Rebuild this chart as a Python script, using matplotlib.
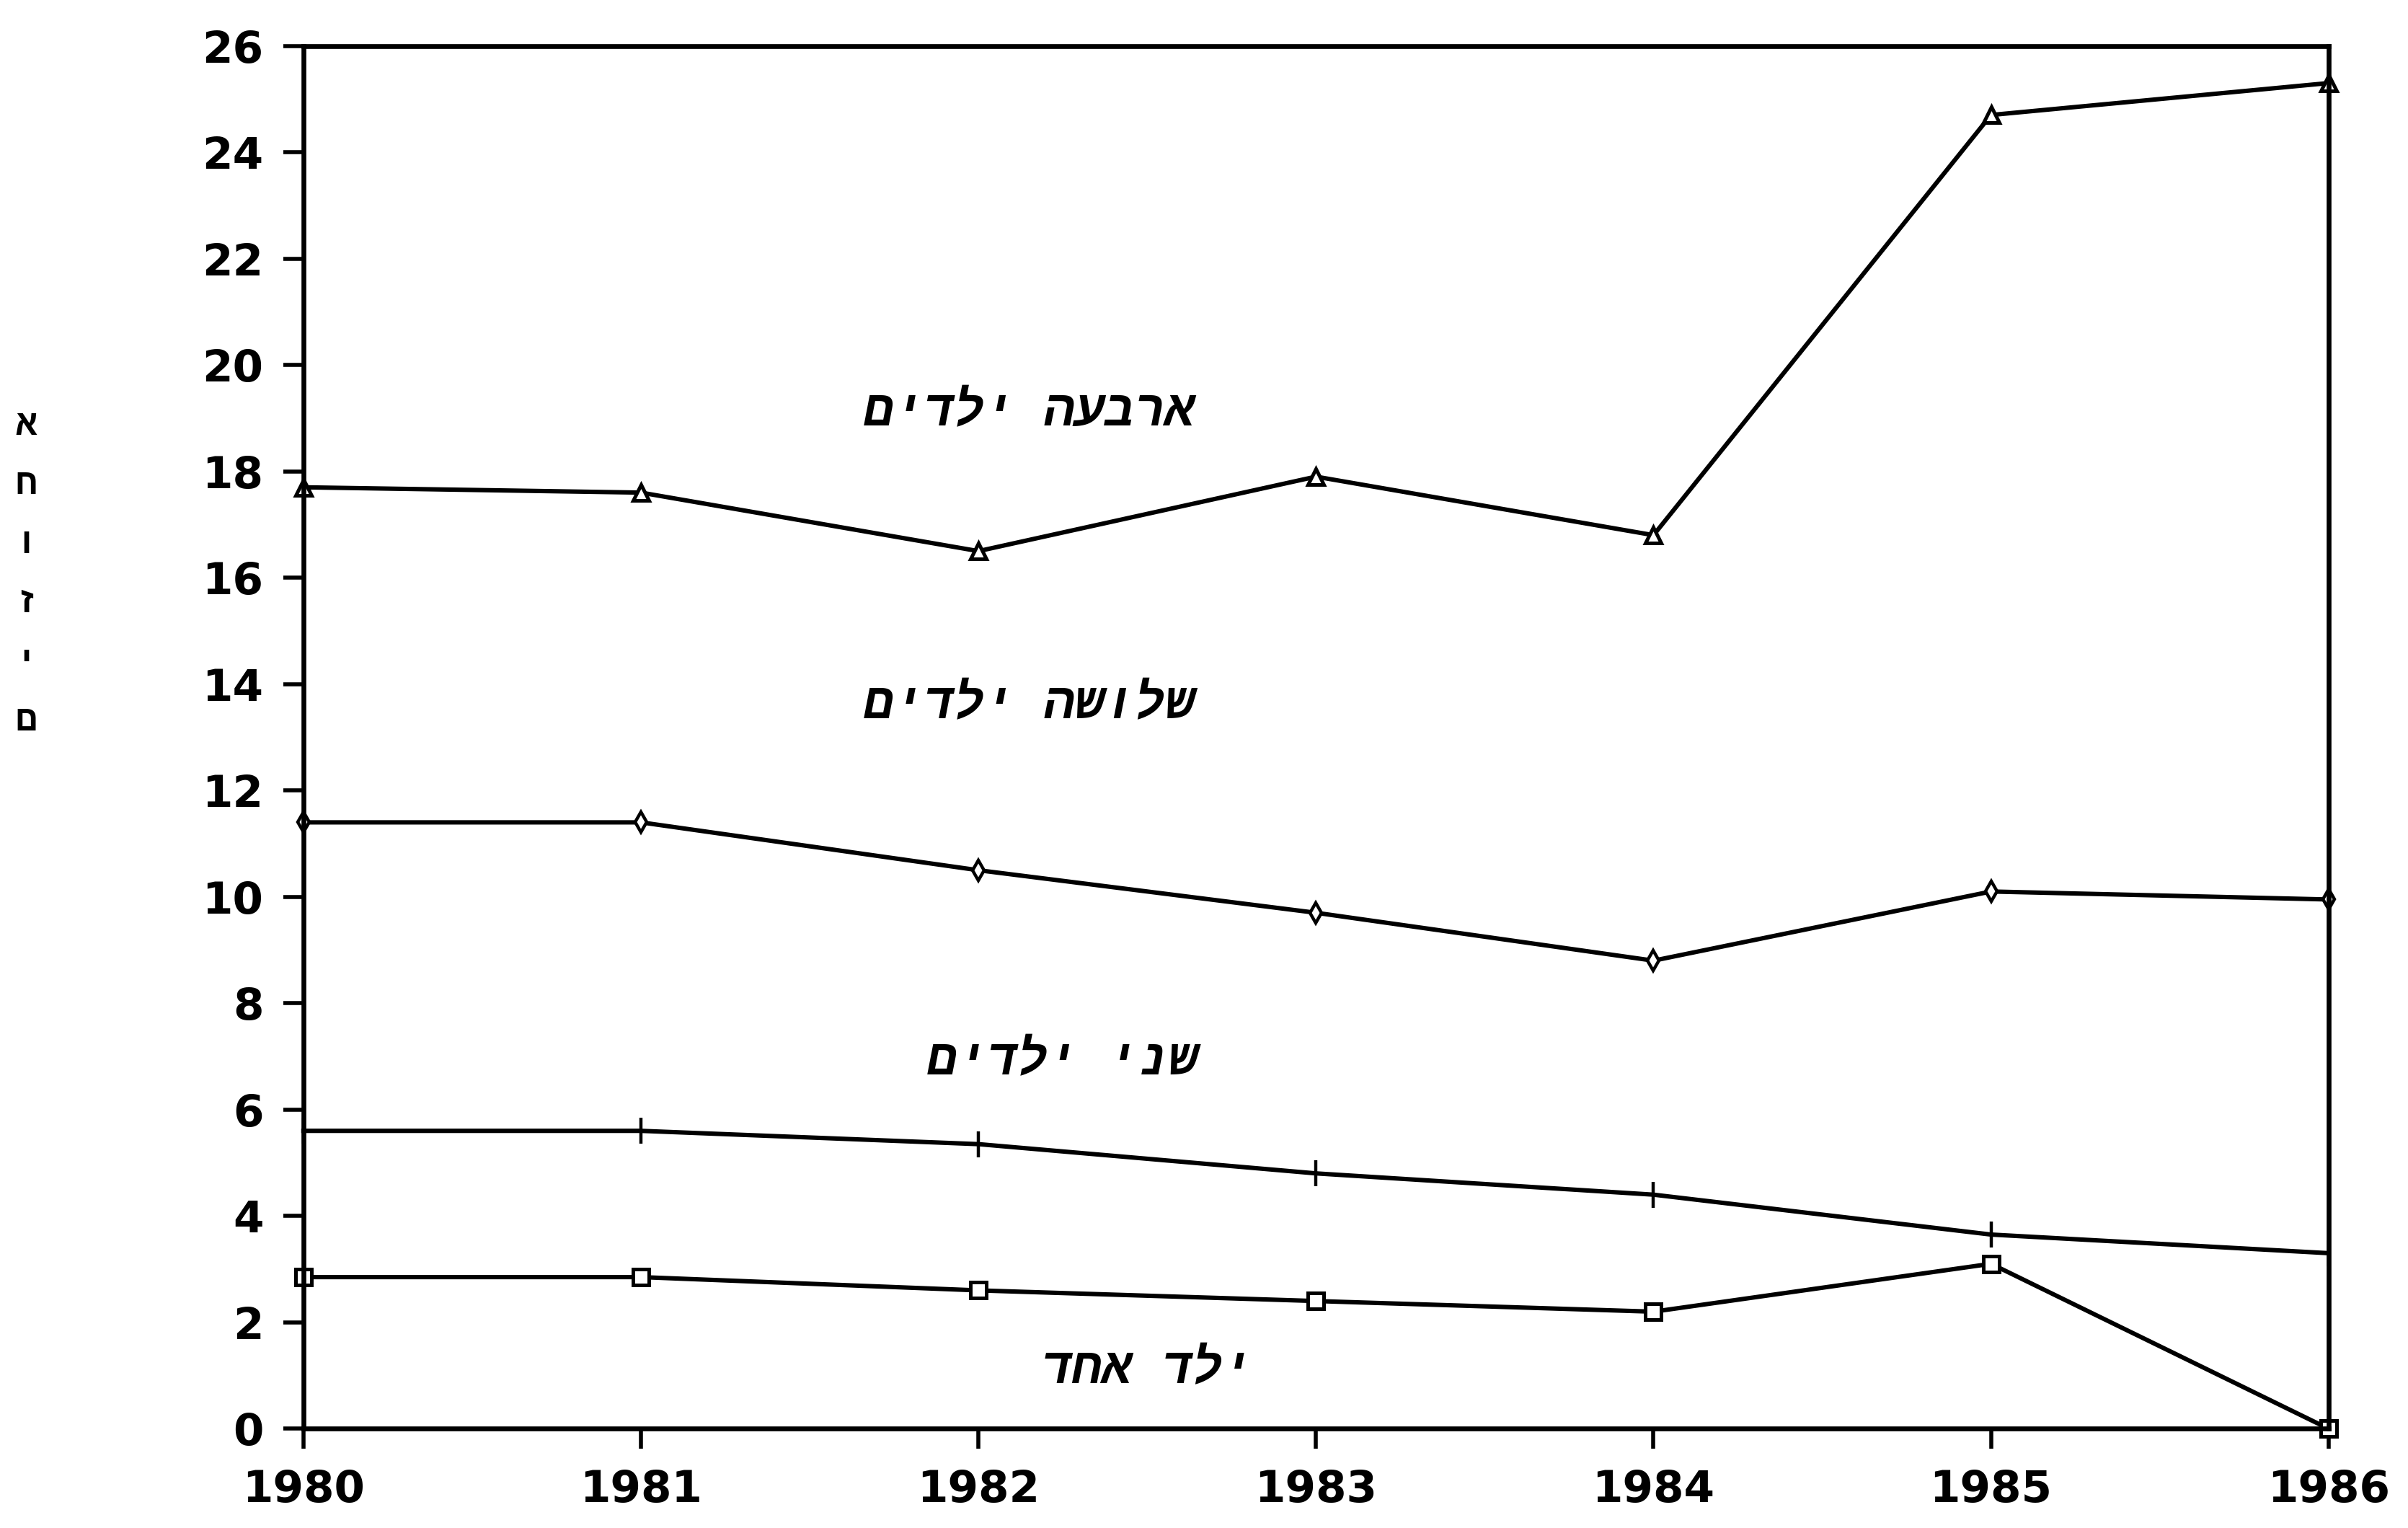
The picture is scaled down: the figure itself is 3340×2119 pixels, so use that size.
import matplotlib
matplotlib.use("Agg")
import matplotlib.pyplot as plt

# שנים וערכים (אחוזים) לפי מספר ילדים
years = [1980, 1981, 1982, 1983, 1984, 1985, 1986]
four_children = [17.7, 17.6, 16.5, 17.9, 16.8, 24.7, 25.3]
three_children = [11.4, 11.4, 10.5, 9.7, 8.8, 10.1, 9.95]
two_children = [5.6, 5.6, 5.35, 4.8, 4.4, 3.65, 3.3]
one_child = [2.85, 2.85, 2.6, 2.4, 2.2, 3.1, 0.0]

series_labels = ["ארבעה ילדים", "שלושה ילדים", "שני ילדים", "ילד אחד"]
label_x = [1982.15, 1982.15, 1982.25, 1982.5]
label_y = [19.1, 13.6, 6.9, 1.1]
y_title = "אחוזים"

heb_font = ["Liberation Mono", "DejaVu Sans Mono"]


def heb(s):
    # matplotlib לא הופך טקסט מימין לשמאל
    return s[::-1]


fig = plt.figure(figsize=(16.7, 10.595), dpi=200)
ax = fig.add_axes([0.126, 0.065, 0.841, 0.905])

lw = 2.2
ax.plot(years, four_children, color="black", lw=lw, marker="^", ms=8,
        mfc="white", mec="black", mew=1.8, clip_on=False)
ax.plot(years, three_children, color="black", lw=lw, marker="d", ms=7,
        mfc="white", mec="black", mew=1.6, clip_on=False)
ax.plot(years, two_children, color="black", lw=lw, marker="|", ms=13,
        mec="black", mew=1.6, clip_on=False)
ax.plot(years, one_child, color="black", lw=lw, marker="s", ms=8,
        mfc="white", mec="black", mew=1.8, clip_on=False)

for txt, x, y in zip(series_labels, label_x, label_y):
    ax.text(x, y, heb(txt), ha="center", va="center", fontsize=25,
            family=heb_font, style="italic", weight="bold", color="black")

ax.set_xlim(1980, 1986)
ax.set_ylim(0, 26)
ax.set_xticks(years)
ax.set_yticks(range(0, 27, 2))

for sp in ax.spines.values():
    sp.set_linewidth(2.4)

ax.tick_params(axis="both", direction="out", length=10, width=2.0,
               labelsize=22, pad=10)
for lab in ax.get_xticklabels() + ax.get_yticklabels():
    lab.set_fontweight("bold")
    lab.set_family("DejaVu Sans")

# כותרת ציר אנכית, אות מתחת לאות
fig.text(0.011, 0.625, "\n".join(list(y_title)), ha="center", va="center",
         fontsize=18, family=heb_font, weight="bold", linespacing=2.0)

plt.savefig("out.png", dpi=200)
